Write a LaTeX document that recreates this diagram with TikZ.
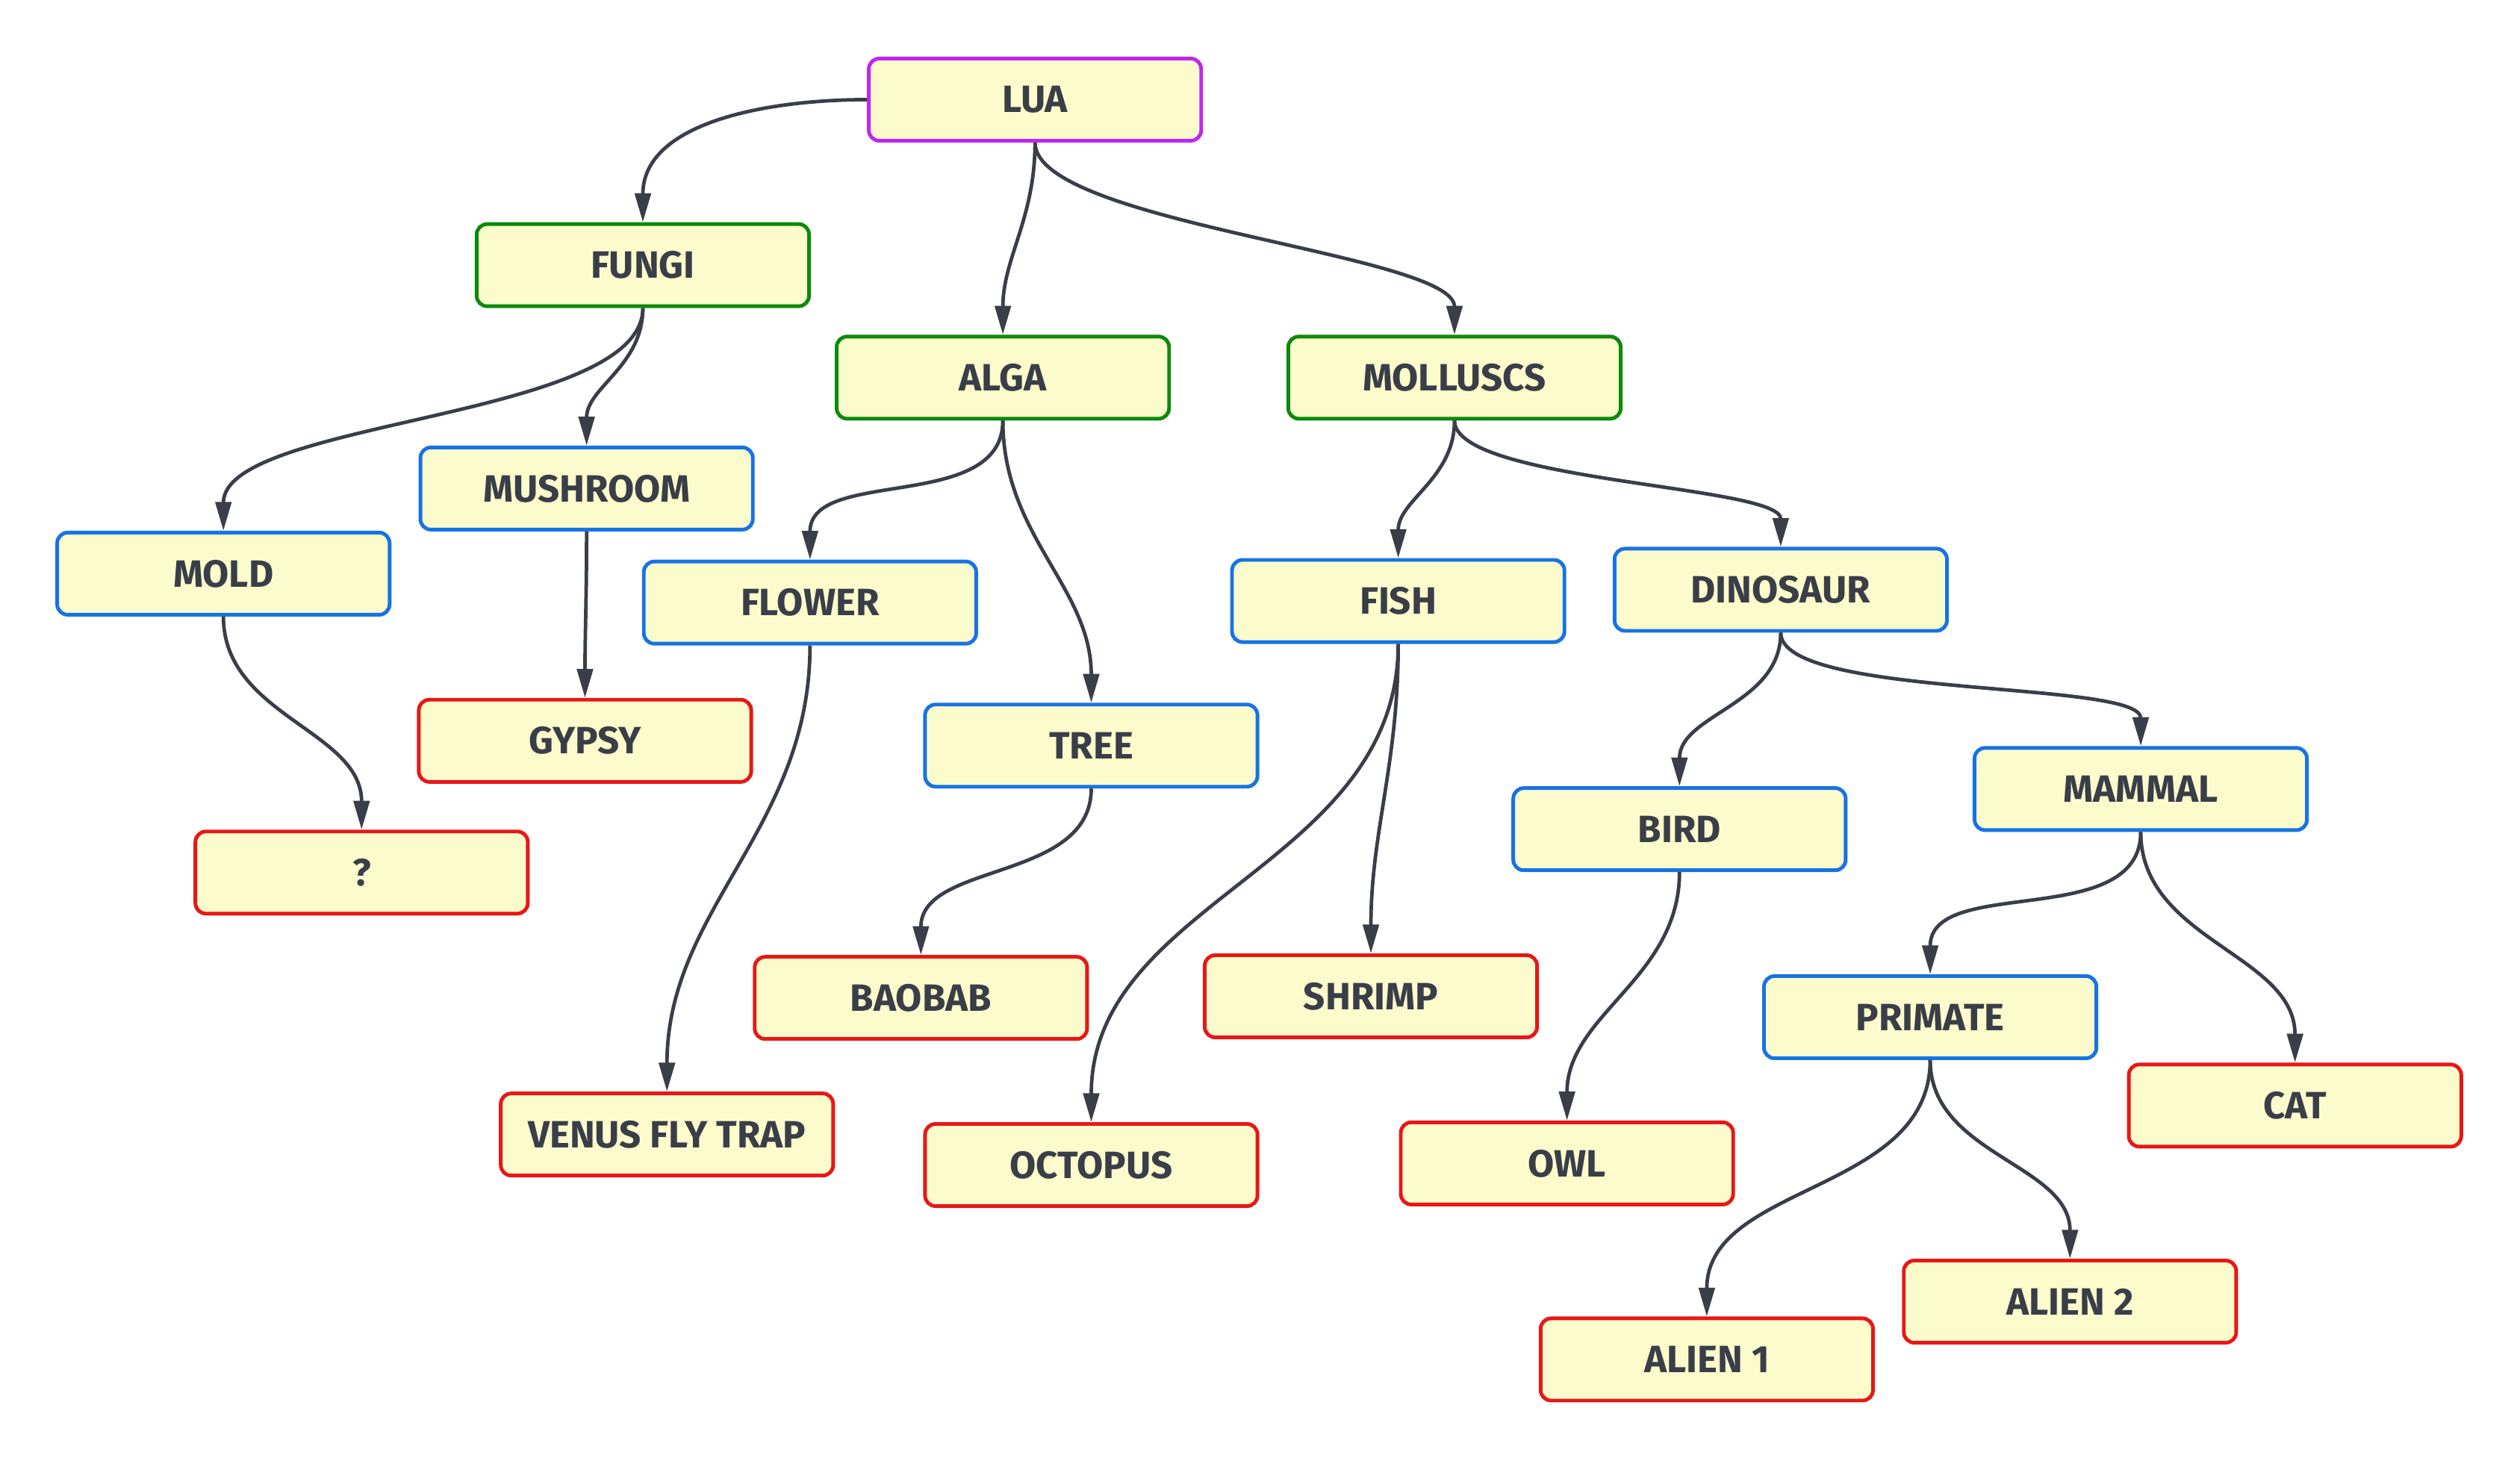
\documentclass[tikz,border=0pt]{standalone}
\usepackage{fontspec}
\setmainfont{Fira Sans}
\usepackage{xcolor}
\usepackage{tikz}
\usetikzlibrary{arrows.meta}
\definecolor{boxfill}{HTML}{FCFBCB}
\definecolor{rootc}{HTML}{C025F2}
\definecolor{kingc}{HTML}{0B8A0B}
\definecolor{groupc}{HTML}{1673E6}
\definecolor{leafc}{HTML}{E81717}
\definecolor{linkc}{HTML}{393E48}
\tikzset{
  box/.style={draw,fill=boxfill,rounded corners=4pt,line width=1.4pt,
    minimum width=4.45cm,minimum height=1.1cm,text=linkc,
    font=\fontsize{14.5}{16}\selectfont\bfseries},
  root/.style={box,draw=rootc},
  king/.style={box,draw=kingc},
  group/.style={box,draw=groupc},
  leaf/.style={box,draw=leafc},
  link/.style={draw=linkc,line width=1.35pt,-{Triangle[length=11pt,width=6pt]}}
}

\begin{document}
\begin{tikzpicture}[x=0.02152cm,y=-0.02152cm]
    \useasboundingbox (0,0) rectangle (1568,909);
    \node[root] (lua) at (644,62) {LUA};
    \node[king] (fungi) at (400,165) {FUNGI};
    \node[king] (alga) at (624,235) {ALGA};
    \node[king] (moll) at (905,235) {MOLLUSCS};
    \node[group] (mush) at (365,304) {MUSHROOM};
    \node[group] (mold) at (139,357) {MOLD};
    \node[group] (flower) at (504,375) {FLOWER};
    \node[group] (fish) at (870,374) {FISH};
    \node[group] (dino) at (1108,367) {DINOSAUR};
    \node[leaf] (gypsy) at (364,461) {GYPSY};
    \node[group] (tree) at (679,464) {TREE};
    \node[leaf] (unk) at (225,543) {?};
    \node[group] (bird) at (1045,516) {BIRD};
    \node[group] (mammal) at (1332,491) {MAMMAL};
    \node[leaf] (baobab) at (573,621) {BAOBAB};
    \node[leaf] (shrimp) at (853,620) {SHRIMP};
    \node[group] (primate) at (1201,633) {PRIMATE};
    \node[leaf] (cat) at (1428,688) {CAT};
    \node[leaf] (venus) at (415,706) {VENUS FLY TRAP};
    \node[leaf] (octo) at (679,725) {OCTOPUS};
    \node[leaf] (owl) at (975,724) {OWL};
    \node[leaf] (alientwo) at (1288,810) {ALIEN 2};
    \node[leaf] (alienone) at (1062,846) {ALIEN 1};
    \draw[link] (lua.west) to[out=180,in=90] (fungi.north);
    \draw[link] (lua.south) to[out=-90,in=90] (alga.north);
    \draw[link] (lua.south) to[out=-90,in=90,looseness=0.45] (moll.north);
    \draw[link] (fungi.south) to[out=-90,in=90,looseness=0.6] (mold.north);
    \draw[link] (fungi.south) to[out=-90,in=90] (mush.north);
    \draw[link] (mush.south) to[out=-90,in=90] (gypsy.north);
    \draw[link] (mold.south) to[out=-90,in=90] (unk.north);
    \draw[link] (alga.south) to[out=-90,in=90] (flower.north);
    \draw[link] (alga.south) to[out=-90,in=90] (tree.north);
    \draw[link] (flower.south) to[out=-90,in=90] (venus.north);
    \draw[link] (tree.south) to[out=-90,in=90] (baobab.north);
    \draw[link] (moll.south) to[out=-90,in=90] (fish.north);
    \draw[link] (moll.south) to[out=-90,in=90,looseness=0.45] (dino.north);
    \draw[link] (fish.south) to[out=-90,in=90] (octo.north);
    \draw[link] (fish.south) to[out=-90,in=90] (shrimp.north);
    \draw[link] (dino.south) to[out=-90,in=90] (bird.north);
    \draw[link] (dino.south) to[out=-90,in=90,looseness=0.45] (mammal.north);
    \draw[link] (bird.south) to[out=-90,in=90] (owl.north);
    \draw[link] (mammal.south) to[out=-90,in=90] (primate.north);
    \draw[link] (mammal.south) to[out=-90,in=90] (cat.north);
    \draw[link] (primate.south) to[out=-90,in=90] (alienone.north);
    \draw[link] (primate.south) to[out=-90,in=90] (alientwo.north);
\end{tikzpicture}
\end{document}
